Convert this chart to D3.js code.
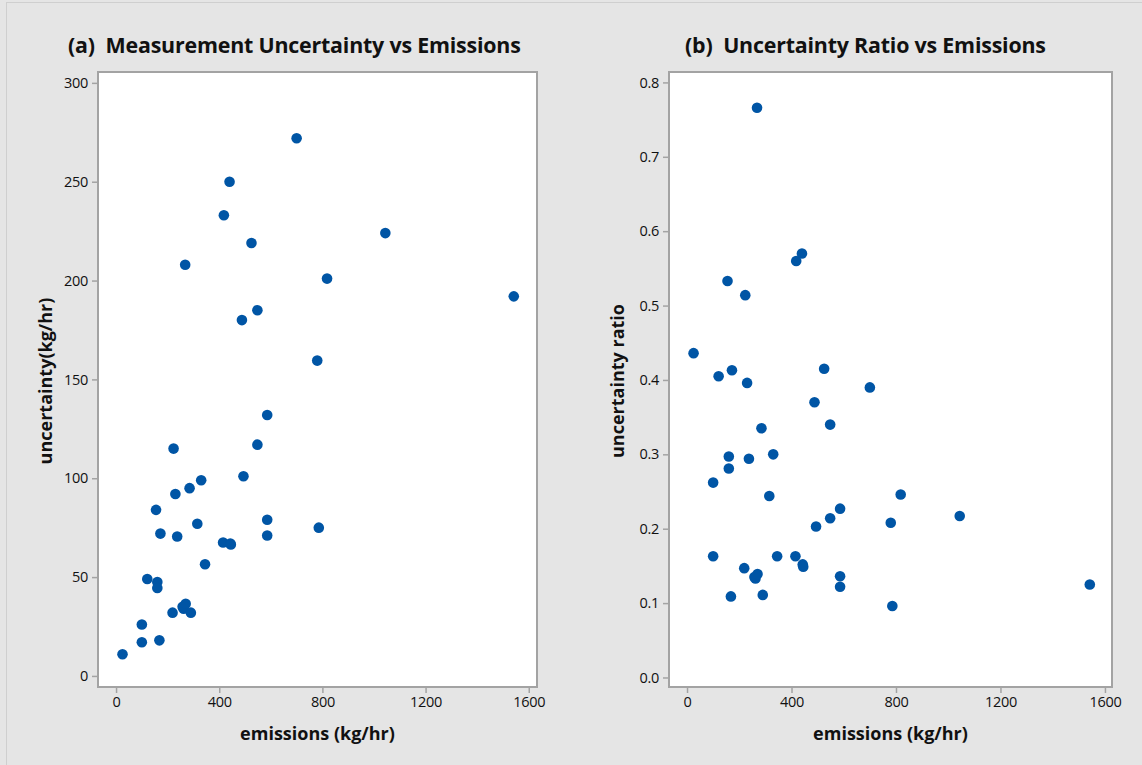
<!DOCTYPE html>
<html>
<head>
<meta charset="utf-8">
<script src="https://cdn.jsdelivr.net/npm/d3@7"></script>
<style>
  body { margin: 0; background: #e5e5e5; }
  svg text { font-family: "Open Sans", "Noto Sans", sans-serif; fill: #111; }
</style>
</head>
<body>
<div id="chart"></div>
<script>
// emissions (kg/hr), shared by both panels
var emissions = [25, 100, 100, 121, 155, 160, 160, 168, 172, 219,
                 223, 230, 237, 258, 262, 270, 268, 285, 290, 315,
                 330, 345, 415, 418, 440, 443, 445, 488, 494, 525,
                 548, 548, 586, 586, 586, 700, 780, 786, 818, 1044, 1542];
// panel (a): measurement uncertainty (kg/hr)
var uncertainty = [11, 26, 17, 49, 84, 47.5, 44.5, 18, 72, 32,
                   115, 92, 70.5, 35, 34, 36.5, 208, 95, 32, 77,
                   99, 56.5, 67.5, 233, 250, 67, 66.5, 180, 101, 219,
                   185, 117, 132, 79, 71, 272, 159.5, 75, 201, 224, 192];
// panel (b): uncertainty ratio
var ratio = [0.436, 0.262, 0.163, 0.405, 0.533, 0.297, 0.281, 0.109, 0.413, 0.147,
             0.514, 0.396, 0.294, 0.135, 0.133, 0.139, 0.766, 0.335, 0.111, 0.244,
             0.300, 0.163, 0.163, 0.560, 0.570, 0.152, 0.149, 0.370, 0.203, 0.415,
             0.340, 0.214, 0.227, 0.136, 0.122, 0.390, 0.208, 0.096, 0.246, 0.217, 0.125];

var xTicks = [0, 400, 800, 1200, 1600];
var yTicksA = [0, 50, 100, 150, 200, 250, 300];
var yTicksB = [0.0, 0.1, 0.2, 0.3, 0.4, 0.5, 0.6, 0.7, 0.8];

var W = 1142, H = 765;
var dotColor = "#0055a5", frameColor = "#a3a3a3";

var svg = d3.select("#chart").append("svg")
    .attr("width", W).attr("height", H);

svg.append("rect").attr("width", W).attr("height", H).attr("fill", "#e5e5e5");
// faint outer frame of the figure
svg.append("rect")
    .attr("x", 6.5).attr("y", 2.5).attr("width", W).attr("height", H)
    .attr("fill", "none").attr("stroke", "#cfcfcf").attr("stroke-width", 1);

function drawPanel(opt) {
    var x = d3.scaleLinear().domain(opt.xDomain).range([opt.left, opt.right]);
    var y = d3.scaleLinear().domain(opt.yDomain).range([opt.bottom, opt.top]);

    svg.append("rect")
        .attr("x", opt.left).attr("y", opt.top)
        .attr("width", opt.right - opt.left).attr("height", opt.bottom - opt.top)
        .attr("fill", "#fff").attr("stroke", frameColor).attr("stroke-width", 2);

    var xAxis = svg.append("g")
        .attr("transform", "translate(0," + (opt.bottom + 1) + ")")
        .call(d3.axisBottom(x).tickValues(xTicks).tickSize(5).tickPadding(4).tickFormat(d3.format("d")));
    var yAxis = svg.append("g")
        .attr("transform", "translate(" + (opt.left - 1) + ",0)")
        .call(d3.axisLeft(y).tickValues(opt.yTicks).tickSize(5).tickPadding(4).tickFormat(opt.yFormat));

    [xAxis, yAxis].forEach(function (g) {
        g.select(".domain").remove();
        g.selectAll(".tick line").attr("stroke", frameColor).attr("stroke-width", 1.5);
        g.selectAll(".tick text").attr("font-size", 14.5).attr("fill", "#111")
            .style("font-family", "'Open Sans', sans-serif")
            .style("letter-spacing", "-0.3px");
    });

    svg.append("g").selectAll("circle")
        .data(opt.points)
        .enter()
        .append("circle")
        .attr("cx", function (d) { return x(d[0]); })
        .attr("cy", function (d) { return y(d[1]); })
        .attr("r", 5.3)
        .attr("fill", dotColor);

    svg.append("text")
        .attr("x", opt.titleX).attr("y", 53)
        .attr("font-size", 21.4).attr("font-weight", "bold")
        .style("white-space", "pre")
        .style("letter-spacing", "-0.2px")
        .text(opt.title);

    svg.append("text")
        .attr("x", (opt.left + opt.right) / 2).attr("y", 740)
        .attr("text-anchor", "middle")
        .attr("font-size", 18).attr("font-weight", "bold")
        .text("emissions (kg/hr)");

    svg.append("text")
        .attr("transform", "translate(" + opt.yLabelX + ",381) rotate(-90)")
        .attr("text-anchor", "middle")
        .attr("font-size", 18).attr("font-weight", "bold")
        .text(opt.yLabel);
}

drawPanel({
    left: 98, right: 537, top: 72, bottom: 687,
    xDomain: [-70, 1632], yDomain: [-5.6, 305.5],
    yTicks: yTicksA, yFormat: d3.format("d"),
    points: emissions.map(function (e, i) { return [e, uncertainty[i]]; }),
    title: "(a)  Measurement Uncertainty vs Emissions", titleX: 68,
    yLabel: "uncertainty(kg/hr)", yLabelX: 52
});

drawPanel({
    left: 669, right: 1112, top: 72, bottom: 687,
    xDomain: [-69, 1627], yDomain: [-0.0128, 0.814],
    yTicks: yTicksB, yFormat: d3.format(".1f"),
    points: emissions.map(function (e, i) { return [e, ratio[i]]; }),
    title: "(b)  Uncertainty Ratio vs Emissions", titleX: 685,
    yLabel: "uncertainty ratio", yLabelX: 624
});
</script>
</body>
</html>
